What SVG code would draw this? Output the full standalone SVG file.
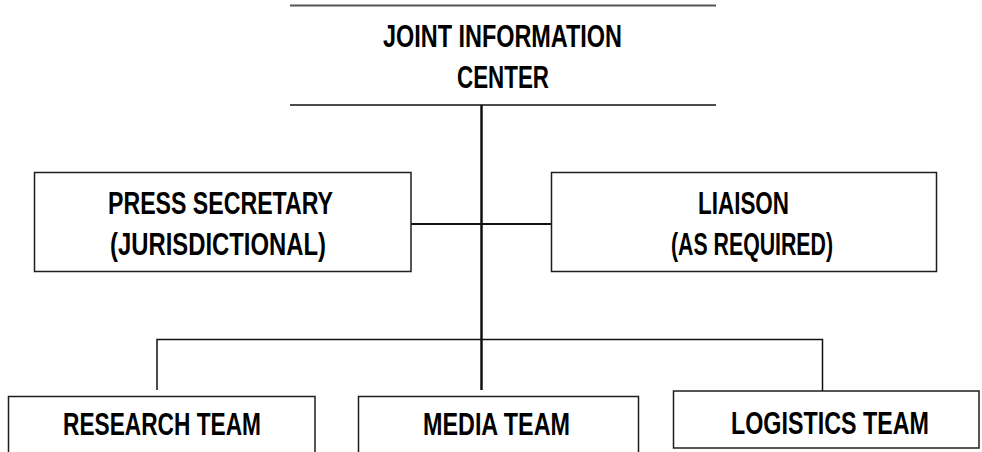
<svg xmlns="http://www.w3.org/2000/svg" width="982" height="452" viewBox="0 0 982 452">
  <style>
    .box { fill: #ffffff; stroke: #1e1e1e; stroke-width: 1.5; }
    .lbl { font-family: "Liberation Sans Narrow", "Liberation Sans", Arial, sans-serif; font-weight: bold; font-size: 32px; fill: #000000; text-anchor: middle; }
    .wire { stroke: #111111; fill: none; }
  </style>
  <rect width="982" height="452" fill="#ffffff"/>

  <!-- connectors -->
  <g id="connectors">
    <line class="wire" x1="481.5" y1="105" x2="481.5" y2="390" stroke-width="2.5"/>
    <line class="wire" x1="411" y1="224" x2="551" y2="224" stroke-width="2"/>
    <polyline class="wire" points="157,390 157,339.5 822.5,339.5 822.5,391" stroke-width="1.5"/>
  </g>

  <!-- top node: only upper and lower rules -->
  <g id="jic">
    <line x1="290" y1="5.5" x2="716" y2="5.5" stroke="#555555" stroke-width="2.2"/>
    <line x1="290" y1="105" x2="716" y2="105" stroke="#111111" stroke-width="1.5"/>
    <text class="lbl" x="502.5" y="46.5" textLength="239" lengthAdjust="spacingAndGlyphs">JOINT INFORMATION</text>
    <text class="lbl" x="503" y="88" textLength="92" lengthAdjust="spacingAndGlyphs">CENTER</text>
  </g>

  <g id="press">
    <rect class="box" x="34.5" y="172.5" width="376.5" height="99"/>
    <text class="lbl" x="220.5" y="214" textLength="225" lengthAdjust="spacingAndGlyphs">PRESS SECRETARY</text>
    <text class="lbl" x="218" y="255" textLength="216" lengthAdjust="spacingAndGlyphs">(JURISDICTIONAL)</text>
  </g>

  <g id="liaison">
    <rect class="box" x="551.5" y="172.5" width="385" height="99"/>
    <text class="lbl" x="743.5" y="214" textLength="91" lengthAdjust="spacingAndGlyphs">LIAISON</text>
    <text class="lbl" x="752" y="255" textLength="162" lengthAdjust="spacingAndGlyphs">(AS REQUIRED)</text>
  </g>

  <g id="research">
    <rect class="box" x="8.5" y="396.5" width="306.5" height="70"/>
    <text class="lbl" x="162" y="435" textLength="198" lengthAdjust="spacingAndGlyphs">RESEARCH TEAM</text>
  </g>

  <g id="media">
    <rect class="box" x="358.5" y="396.5" width="280" height="70"/>
    <text class="lbl" x="496.5" y="435" textLength="147" lengthAdjust="spacingAndGlyphs">MEDIA TEAM</text>
  </g>

  <g id="logistics">
    <rect class="box" x="673.5" y="391" width="305.5" height="57"/>
    <!-- smaller nominal size, stretched upright to the same cap height -->
    <text class="lbl" transform="translate(830 434) scale(1 1.185)" x="0" y="0" style="font-size:27px" textLength="198" lengthAdjust="spacingAndGlyphs">LOGISTICS TEAM</text>
  </g>
</svg>
